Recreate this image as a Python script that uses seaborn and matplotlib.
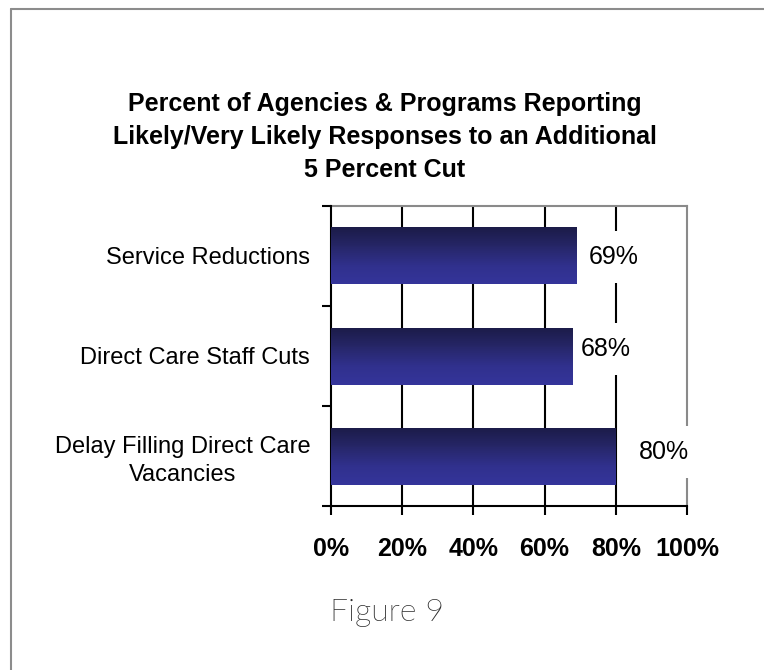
import os
import numpy as np
import pandas as pd
import matplotlib
matplotlib.use("Agg")
import matplotlib.pyplot as plt
import matplotlib.font_manager as fm
from matplotlib.colors import LinearSegmentedColormap
from matplotlib.lines import Line2D
import seaborn as sns

# Survey results: share of agencies/programs reporting each likely response
categories = ["Service Reductions", "Direct Care Staff Cuts",
              "Delay Filling Direct Care\nVacancies"]
percent = [69, 68, 80]
x_ticks = [0, 20, 40, 60, 80, 100]
x_tick_labels = ["0%", "20%", "40%", "60%", "80%", "100%"]

title = ("Percent of Agencies & Programs Reporting\n"
         "Likely/Very Likely Responses to an Additional\n"
         "5 Percent Cut")
caption = "Figure 9"

sns.set_theme(style="white")
plt.rcParams["font.family"] = ["Liberation Sans", "DejaVu Sans"]
plt.rcParams["text.color"] = "black"
plt.rcParams["xtick.color"] = "black"
plt.rcParams["ytick.color"] = "black"

W, H = 764, 670
fig = plt.figure(figsize=(W / 100, H / 100), dpi=100)
fig.patch.set_facecolor("white")

# plot area in pixel terms
left, right, top, bottom = 331, 687, 206, 506
ax = fig.add_axes([left / W, 1 - bottom / H, (right - left) / W, (bottom - top) / H])

df = pd.DataFrame({"category": categories, "percent": percent})
sns.barplot(data=df, y="category", x="percent", orient="h", ax=ax,
            width=0.57, color="#2a2a80", edgecolor="none", zorder=3)

ax.set_xlim(0, 100)
ax.set_ylim(2.5, -0.5)

# vertical gradient fill for each bar (dark navy on top -> indigo below)
cmap = LinearSegmentedColormap.from_list(
    "bar_grad", ["#1b1b48", "#262668", "#30308c", "#34349a"])
n_steps = 60
for patch in list(ax.patches):
    x0, y0 = patch.get_x(), patch.get_y()
    w, h = patch.get_width(), patch.get_height()
    patch.set_facecolor("none")
    ys = np.linspace(y0, y0 + h, n_steps + 1)
    xs = np.array([x0, x0 + w])
    shade = np.linspace(0, 1, n_steps).reshape(-1, 1)
    ax.pcolormesh(xs, ys, shade, cmap=cmap, vmin=0, vmax=1,
                  shading="flat", edgecolors="none", antialiased=False,
                  zorder=3.5)
ax.set_xlim(0, 100)
ax.set_ylim(2.5, -0.5)

# gridlines
for gx in x_ticks[1:-1]:
    ax.axvline(gx, color="black", lw=1.5, zorder=1)

# spines
for side in ["left", "bottom"]:
    ax.spines[side].set_color("black")
    ax.spines[side].set_linewidth(1.5)
for side in ["top", "right"]:
    ax.spines[side].set_color("#8a8a8a")
    ax.spines[side].set_linewidth(1.5)
    ax.spines[side].set_zorder(1)

# x axis
ax.set_xticks(x_ticks)
ax.set_xticklabels(x_tick_labels, fontsize=18, fontweight="bold")
ax.tick_params(axis="x", direction="out", length=6.5, width=1.5,
               color="black", pad=16, bottom=True, labelcolor="black")
ax.set_xlabel("")

# y axis: labels at bars, ticks between categories
ax.set_yticks(range(len(categories)))
ax.set_yticklabels(categories, fontsize=17)
ax.set_yticks([-0.5, 0.5, 1.5, 2.5], minor=True)
ax.tick_params(axis="y", which="major", length=0, pad=15, labelcolor="black")
ax.tick_params(axis="y", which="minor", direction="out", length=6.5,
               width=1.5, color="black", left=True)
for lab in ax.get_yticklabels():
    lab.set_multialignment("center")
    lab.set_linespacing(1.3)
ax.set_ylabel("")

# value labels beyond the bar ends on white boxes (kept beneath the bars)
label_offsets = [37, 33, 48]
label_dy = [1, -7, -4]
for i, (val, dx) in enumerate(zip(percent, label_offsets)):
    ax.annotate(f"{val}%", xy=(val, i), xytext=(dx * 0.72, -label_dy[i] * 0.72),
                textcoords="offset points", ha="center", va="center",
                fontsize=18, color="black", zorder=2,
                bbox=dict(boxstyle="square,pad=0.55", fc="white", ec="none"))

# title and caption
fig.text(385 / W, 1 - 137 / H, title, ha="center", va="center",
         fontsize=18, fontweight="bold", linespacing=1.45, color="black")

light_files = [f for f in fm.findSystemFonts()
               if "lato" in os.path.basename(f).lower()
               and "light" in os.path.basename(f).lower()
               and "italic" not in os.path.basename(f).lower()]
if light_files:
    cap_font = fm.FontProperties(fname=sorted(light_files)[0], size=23)
else:
    cap_font = fm.FontProperties(family=["Lato", "DejaVu Sans"], size=23)
fig.text(330 / W, 1 - 621 / H, caption, ha="left", va="baseline",
         fontproperties=cap_font, color="#2b2b2b")

# page frame lines along top and left
fig.add_artist(Line2D([11 / W, 1], [1 - 9 / H, 1 - 9 / H], color="#8c8c8c",
                      lw=1.5, transform=fig.transFigure))
fig.add_artist(Line2D([11 / W, 11 / W], [0, 1 - 9 / H], color="#8c8c8c",
                      lw=1.5, transform=fig.transFigure))

fig.savefig("out.png", dpi=100, facecolor="white")
